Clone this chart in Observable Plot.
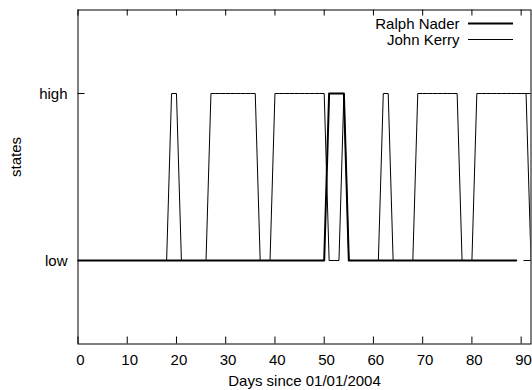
<!DOCTYPE html>
<html><head><meta charset="utf-8">
<script src="https://cdn.jsdelivr.net/npm/d3@7"></script>
<script src="https://cdn.jsdelivr.net/npm/@observablehq/plot@0.6"></script>
<style>body{margin:0;background:#fff}</style>
</head><body><div id="chart"></div>
<script>
const days = [0,1,2,3,4,5,6,7,8,9,10,11,12,13,14,15,16,17,18,19,20,21,22,23,24,25,26,27,28,29,30,31,32,33,34,35,36,37,38,39,40,41,42,43,44,45,46,47,48,49,50,51,52,53,54,55,56,57,58,59,60,61,62,63,64,65,66,67,68,69,70,71,72,73,74,75,76,77,78,79,80,81,82,83,84,85,86,87,88,89,90,91,92];
// 0 = low, 1 = high
const nader = [
  0,0,0,0,0,0,0,0,0,0,
  0,0,0,0,0,0,0,0,0,0,
  0,0,0,0,0,0,0,0,0,0,
  0,0,0,0,0,0,0,0,0,0,
  0,0,0,0,0,0,0,0,0,0,
  0,1,1,1,1,0,0,0,0,0,
  0,0,0,0,0,0,0,0,0,0,
  0,0,0,0,0,0,0,0,0,0,
  0,0,0,0,0,0,0,0,0,0];
const kerry = [
  0,0,0,0,0,0,0,0,0,0,
  0,0,0,0,0,0,0,0,0,1,
  1,0,0,0,0,0,0,1,1,1,
  1,1,1,1,1,1,1,0,0,0,
  1,1,1,1,1,1,1,1,1,1,
  1,0,0,0,1,0,0,0,0,0,
  0,0,1,1,0,0,0,0,0,1,
  1,1,1,1,1,1,1,1,0,0,
  0,1,1,1,1,1,1,1,1,1,
  1,1,0];
const seriesNames = ["Ralph Nader", "John Kerry"];
const stateLevels = [0, 1];
const stateLabels = ["low", "high"];
const xTicks = [0, 10, 20, 30, 40, 50, 60, 70, 80, 90];
const xLabel = "Days since 01/01/2004";
const yLabel = "states";

const naderData = nader.map((s, i) => ({day: days[i], state: s}));
const kerryData = kerry.map((s, i) => ({day: days[i], state: s}));

const W = 532, H = 390, L = 77.5, R = 530.5, T = 9.5, B = 343.5;
const plot = Plot.plot({
  width: W, height: H,
  marginLeft: L, marginRight: W - R, marginTop: T, marginBottom: H - B,
  style: {fontFamily: "'Liberation Sans', Arial, sans-serif", fontSize: "15px", color: "black", background: "white", overflow: "visible"},
  x: {domain: [0, 92], label: null},
  y: {domain: [-0.5, 1.5], label: null},
  marks: [
    Plot.line(naderData, {x: "day", y: "state", stroke: "black", strokeWidth: 2, clip: true}),
    Plot.line(kerryData, {x: "day", y: "state", stroke: "black", strokeWidth: 1, clip: true}),
    Plot.frame({stroke: "black", strokeWidth: 1}),
    Plot.tickX(xTicks, {x: d => d, insetTop: (B - T) - 7, stroke: "black"}),
    Plot.tickX(xTicks, {x: d => d, insetBottom: (B - T) - 6, stroke: "black"}),
    Plot.tickY(stateLevels, {y: d => d, insetRight: (R - L) - 7, stroke: "black"}),
    Plot.tickY(stateLevels, {y: d => d, insetLeft: (R - L) - 7, stroke: "black"}),
    Plot.axisX(xTicks, {tickSize: 0, tickPadding: 10, dx: 2.4, label: null, tickFormat: d => String(d)}),
    Plot.axisY(stateLevels, {tickSize: 0, tickPadding: 10.5, dy: 1, label: null, tickFormat: d => stateLabels[stateLevels.indexOf(d)]}),
    Plot.text([xLabel], {frameAnchor: "bottom", dy: 42.2, lineAnchor: "bottom", text: d => d}),
    Plot.text([yLabel], {frameAnchor: "left", dx: -57.5, rotate: -90, lineAnchor: "bottom", text: d => d}),
    Plot.text([seriesNames[0]], {frameAnchor: "top-right", dx: -71.5, dy: 14, textAnchor: "end", lineAnchor: "middle", text: d => d}),
    Plot.text([seriesNames[1]], {frameAnchor: "top-right", dx: -71.5, dy: 30, textAnchor: "end", lineAnchor: "middle", text: d => d})
  ]
});
const svg = d3.select(plot);
svg.append("line").attr("x1", 468).attr("x2", 513).attr("y1", 23.5).attr("y2", 23.5).attr("stroke", "black").attr("stroke-width", 2);
svg.append("line").attr("x1", 468).attr("x2", 513).attr("y1", 39.5).attr("y2", 39.5).attr("stroke", "black").attr("stroke-width", 1);
document.getElementById("chart").appendChild(plot);
</script>
</body></html>
